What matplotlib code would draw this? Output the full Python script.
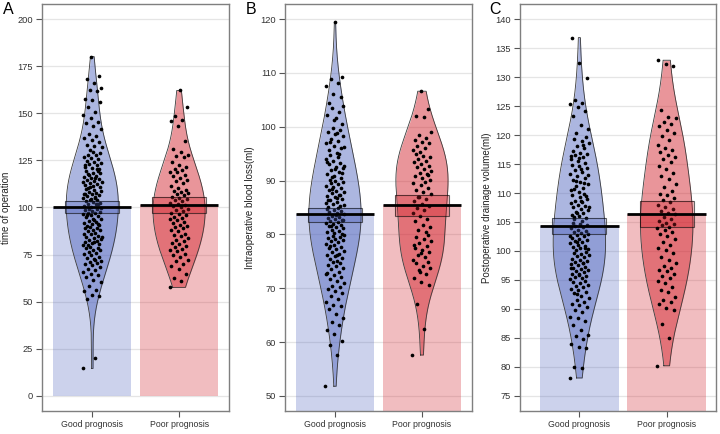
import numpy as np
import matplotlib
matplotlib.use("Agg")
import matplotlib.pyplot as plt

plt.rcParams["font.family"] = ["Liberation Sans", "DejaVu Sans"]

# Groups and colours
groups = ["Good prognosis", "Poor prognosis"]
group_colors = [(80 / 255, 100 / 255, 190 / 255), (210 / 255, 30 / 255, 40 / 255)]

# Panel A: time of operation
a_good = [14.6, 20.3,
          51.6, 52.9, 53.8, 55.7, 56.4, 58.1,
          60.2, 61.3, 62.9, 64.1, 64.7, 65.8, 66.8, 67.2, 68.5, 69.4, 69.8,
          70.4, 71.3, 71.8, 72.6, 73.4, 73.9, 74.8, 75.1, 75.9, 76.5, 77.2, 77.6, 78.4, 78.7, 79.2, 79.9, 72.2,
          80.1, 80.8, 81.2, 81.9, 82.3, 82.7, 83.5, 83.9, 84.2, 85.0, 85.7, 86.1, 86.6, 87.4, 87.8, 88.3, 88.9, 89.2, 89.9, 84.6, 81.5,
          90.1, 90.6, 91.5, 91.9, 92.2, 92.9, 93.8, 94.1, 94.7, 95.4, 95.9, 96.3, 96.9, 97.2, 97.7, 98.3, 98.6, 99.0, 99.4, 99.8, 93.5, 96.1, 91.1,
          100.2, 100.9, 101.6, 102.0, 102.3, 102.9, 103.4, 103.8, 104.1, 104.8, 105.5, 106.0, 106.6, 106.9, 107.3, 107.9, 108.2, 108.8, 109.1, 109.7, 101.8, 104.4, 107.0, 105.2,
          110.3, 110.9, 111.3, 111.8, 112.6, 113.0, 113.5, 114.2, 114.6, 115.3, 115.7, 116.2, 116.9, 117.3, 118.1, 118.4, 119.2, 119.6, 111.0, 113.3, 115.5, 117.8,
          120.5, 121.0, 121.6, 122.4, 122.9, 123.7, 124.2, 124.9, 125.7, 126.1, 126.8, 127.6, 128.1, 128.9, 129.4, 122.7, 120.2,
          130.7, 131.9, 132.6, 133.2, 134.8, 135.6, 136.9, 137.8, 139.1,
          141.5, 143.2, 144.9, 145.6, 147.3, 149.0,
          150.8, 153.1, 156.2, 156.9, 157.7,
          161.8, 162.6, 163.4, 166.2, 168.3, 169.7,
          180.1]
a_poor = [57.6,
          61.2, 62.4, 64.8, 67.1, 68.9,
          70.2, 71.5, 72.4, 73.6, 74.8, 75.3, 76.9, 77.6, 78.2, 79.1, 79.7,
          80.4, 81.3, 82.2, 83.0, 83.9, 84.7, 85.5, 86.1, 87.3, 88.2, 88.9, 89.6,
          90.3, 90.9, 91.6, 92.4, 93.1, 93.7, 94.5, 95.2, 95.8, 96.4, 97.2, 97.9, 98.6, 99.3,
          100.1, 100.7, 101.4, 102.0, 102.6, 103.3, 103.9, 104.5, 105.0, 105.8, 106.4, 107.1, 107.6, 108.3, 108.9, 109.5,
          110.4, 111.6, 112.9, 114.2, 114.8, 115.6, 116.5, 117.3, 118.6, 119.1, 119.8,
          120.4, 121.6, 122.5, 124.1, 126.9, 127.4, 128.1, 129.6,
          131.2, 135.3,
          143.1, 145.9, 146.4, 148.8,
          153.2,
          162.1]

# Panel B: intraoperative blood loss
b_good = [51.8,
          57.6, 59.4,
          60.2, 61.5, 62.2, 63.1, 63.8, 64.5,
          65.3, 66.1, 66.7, 66.9, 67.5, 68.0, 68.6, 69.1, 69.5, 69.9,
          70.2, 70.5, 70.9, 71.3, 71.7, 72.0, 72.4, 72.8, 73.1, 73.5, 73.8, 74.1, 74.4, 74.6, 74.8, 72.6,
          75.1, 75.4, 75.6, 75.9, 76.2, 76.4, 76.7, 77.0, 77.2, 77.4, 77.7, 78.0, 78.3, 78.5, 78.7, 78.9, 79.1, 79.3, 79.5, 79.7, 79.9, 76.1, 77.9,
          80.1, 80.3, 80.5, 80.7, 80.9, 81.1, 81.3, 81.5, 81.7, 81.9, 82.1, 82.3, 82.5, 82.7, 82.9, 83.1, 83.3, 83.5, 83.7, 83.9, 84.1, 84.3, 84.5, 84.7, 84.9, 81.6, 82.6, 83.6,
          85.1, 85.3, 85.6, 85.8, 86.1, 86.4, 86.6, 86.9, 87.1, 87.4, 87.6, 87.9, 88.1, 88.3, 88.6, 88.8, 89.0, 89.3, 89.5, 89.8, 89.9, 86.3, 87.3, 88.4, 85.4, 86.8,
          90.2, 90.5, 90.9, 91.2, 91.6, 91.9, 92.3, 92.6, 93.0, 93.3, 93.7, 94.0, 94.4, 94.7, 91.4, 92.1, 93.5, 94.9, 90.7, 92.8,
          95.2, 95.6, 96.0, 96.5, 96.9, 97.3, 97.8, 98.2, 98.6, 99.0, 99.4, 99.8, 96.2, 98.9, 97.1,
          100.5, 101.3, 102.1, 102.8, 103.4, 103.9, 101.7, 104.4,
          105.6, 106.1, 107.5, 108.2, 108.9, 109.2,
          119.4]
b_poor = [57.6, 62.4, 67.0,
          70.6, 71.1, 71.9, 72.6, 73.3, 73.8, 74.2, 74.6, 74.9, 73.0,
          75.3, 75.8, 76.2, 76.7, 77.1, 77.5, 77.9, 78.4, 78.8, 79.2, 79.6, 79.9, 76.5, 78.1,
          80.4, 80.9, 81.3, 81.8, 82.4, 82.9, 83.5, 84.0, 84.5, 84.9,
          85.3, 85.7, 86.2, 86.6, 87.0, 87.5, 87.9, 88.3, 88.7, 89.1, 89.5, 89.8, 86.9,
          90.2, 90.5, 90.8, 91.2, 91.5, 91.8, 92.1, 92.5, 92.8, 93.1, 93.4, 93.7, 94.0, 94.3, 94.6, 94.9, 91.0,
          95.3, 95.7, 96.1, 96.5, 96.9, 97.2, 97.5, 98.0, 98.5, 99.0,
          101.9, 102.0, 103.3,
          106.6]

# Panel C: postoperative drainage volume
c_good = [78.1, 79.8,
          80.0, 83.2, 83.5, 84.0, 84.8,
          85.3, 85.5, 86.4, 87.3, 88.0, 88.5, 88.6, 89.5, 89.8,
          90.3, 90.6, 90.9, 91.2, 91.6, 91.9, 92.3, 92.7, 93.0, 93.3, 93.5, 93.8, 94.0, 94.2, 94.5, 94.7, 94.9, 92.5,
          95.1, 95.3, 95.5, 95.7, 95.9, 96.1, 96.3, 96.5, 96.7, 96.9, 97.1, 97.3, 97.5, 97.7, 97.9, 98.1, 98.3, 98.5, 98.7, 98.9, 99.1, 99.3, 99.5, 99.7, 99.9, 96.0, 97.0, 98.0,
          100.1, 100.3, 100.5, 100.7, 100.9, 101.1, 101.3, 101.5, 101.7, 101.9, 102.1, 102.3, 102.5, 102.7, 102.9, 103.1, 103.3, 103.5, 103.7, 103.9, 104.1, 104.3, 104.5, 104.7, 104.9, 100.6, 101.6, 102.6,
          105.2, 105.5, 105.7, 106.0, 106.2, 106.5, 106.7, 107.0, 107.2, 107.5, 107.7, 108.0, 108.2, 108.5, 108.7, 109.0, 109.3, 109.6, 109.9, 106.6, 107.6, 108.6, 105.9, 109.4,
          110.2, 110.5, 110.9, 111.2, 111.5, 111.9, 112.3, 112.6, 112.9, 113.3, 113.6, 113.9, 114.3, 114.6, 114.9, 111.7, 112.1, 113.1, 114.1, 110.7,
          115.2, 115.6, 115.9, 116.2, 116.5, 116.7, 116.9, 117.3, 117.7, 118.1, 118.6, 119.0, 119.4, 119.7, 116.1, 116.4, 118.3,
          120.3, 121.0, 121.8, 123.2, 124.2, 124.8,
          125.4, 125.6, 126.1, 129.8,
          132.5,
          136.8]
c_poor = [80.2, 85.0,
          87.4, 89.9,
          90.1, 90.9, 91.2, 91.5, 92.0, 92.9, 93.3, 93.8, 94.4, 94.8,
          95.3, 95.7, 96.1, 96.5, 96.8, 97.0, 97.4, 97.9, 98.5, 99.0, 99.6,
          100.1, 100.6, 101.0, 101.6, 102.1, 102.6, 102.9, 103.3, 103.6, 103.9, 104.1, 104.4, 104.7, 104.9,
          105.2, 105.5, 105.9, 106.3, 106.6, 106.9, 107.3, 107.6, 108.0, 108.4, 108.8, 109.2, 109.6, 109.9,
          110.4, 111.0, 111.6, 112.4, 112.9, 113.5, 114.1, 114.7,
          115.3, 115.8, 116.2, 116.6, 117.1, 117.4, 117.8, 118.3, 119.1, 119.8,
          120.3, 120.9, 121.5, 121.9, 122.3, 122.9, 123.1, 124.4,
          131.9, 132.2, 132.9]

# Means and inference bands
a_means = [100.1, 101.4]
a_low = [96.9, 96.9]
a_high = [103.6, 105.6]
b_means = [83.7, 85.4]
b_low = [82.3, 83.5]
b_high = [84.95, 87.4]
c_means = [104.3, 106.4]
c_low = [102.95, 104.2]
c_high = [105.7, 108.6]

panels = [
    ("A", "time of operation", [a_good, a_poor], a_means, a_low, a_high,
     (-8, 208), np.arange(0, 201, 25), (0.42, 2.575), [0.0583, 0.053, 0.2597, 0.9378], 0.004, -0.163),
    ("B", "Intraoperative blood loss(ml)", [b_good, b_poor], b_means, b_low, b_high,
     (47.2, 122.8), np.arange(50, 121, 10), (0.425, 2.575), [0.3958, 0.053, 0.2597, 0.9378], 0.342, -0.158),
    ("C", "Postoperative drainage volume(ml)", [c_good, c_poor], c_means, c_low, c_high,
     (72.4, 142.6), np.arange(75, 141, 5), (0.32, 2.564), [0.7222, 0.053, 0.2722, 0.9378], 0.679, -0.145),
]

BAR_W = 0.9
BOX_W = 0.62
BEAN_W = 0.3
BW_ADJUST = 1.4


def kde_curve(values):
    v = np.asarray(values, dtype=float)
    n = len(v)
    iqr = np.subtract(*np.percentile(v, [75, 25]))
    bw = BW_ADJUST * 0.9 * min(v.std(ddof=1), iqr / 1.34) * n ** -0.2
    grid = np.linspace(v.min(), v.max(), 300)
    dens = np.exp(-0.5 * ((grid[:, None] - v[None, :]) / bw) ** 2).sum(axis=1)
    return grid, dens / dens.max()


fig = plt.figure(figsize=(7.2, 4.34), dpi=100)

for letter, ylabel, data, means, lows, highs, ylim, yticks, xlim, pos, lx, ly in panels:
    ax = fig.add_axes(pos)
    ax.set_ylim(*ylim)
    ax.set_xlim(*xlim)
    for t in yticks:
        ax.axhline(t, color="#e5e5e5", lw=0.9, zorder=0)

    for i, vals in enumerate(data):
        x0 = i + 1
        col = group_colors[i]
        # bar at the mean
        ax.bar(x0, means[i], width=BAR_W, color=col, alpha=0.29, lw=0, zorder=1)
        # bean
        grid, dens = kde_curve(vals)
        half = dens * BEAN_W
        ax.fill_betweenx(grid, x0 - half, x0 + half, color=col, alpha=0.47, lw=0, zorder=2)
        ax.plot(np.r_[x0 - half, (x0 + half)[::-1], x0 - half[0]],
                np.r_[grid, grid[::-1], grid[0]], color="#3a3a3a", lw=0.6, zorder=2)
        # points with a fixed spread
        k = np.arange(len(vals))
        jit = ((k * 0.61803398875) % 1 - 0.5) * 0.22
        ax.scatter(x0 + jit, vals, s=7, color="black", lw=0, zorder=3)
        # inference band
        ax.add_patch(plt.Rectangle((x0 - BOX_W / 2, lows[i]), BOX_W, highs[i] - lows[i],
                                   facecolor=col, alpha=0.3, edgecolor="none", zorder=4))
        ax.add_patch(plt.Rectangle((x0 - BOX_W / 2, lows[i]), BOX_W, highs[i] - lows[i],
                                   facecolor="none", edgecolor=(0, 0, 0, 0.6), lw=0.8, zorder=4))
        # mean line
        ax.plot([x0 - BAR_W / 2, x0 + BAR_W / 2], [means[i], means[i]], color="black",
                lw=2, solid_capstyle="butt", zorder=5)

    ax.set_xticks([1, 2])
    ax.set_xticklabels(groups, fontsize=6.3)
    ax.set_yticks(yticks)
    ax.set_ylabel(ylabel, fontsize=7, color="#222222")
    ax.yaxis.set_label_coords(ly, 0.5)
    ax.tick_params(axis="y", labelsize=6.7)
    ax.tick_params(colors="#333333", length=4, width=0.8, pad=2.5)
    ax.tick_params(axis="both", color="#555555")
    for s in ax.spines.values():
        s.set_color("#7f7f7f")
        s.set_linewidth(1.0)
    fig.text(lx, 0.995, letter, fontsize=11.5, va="top", ha="left")

fig.savefig("out.png", dpi=100)
